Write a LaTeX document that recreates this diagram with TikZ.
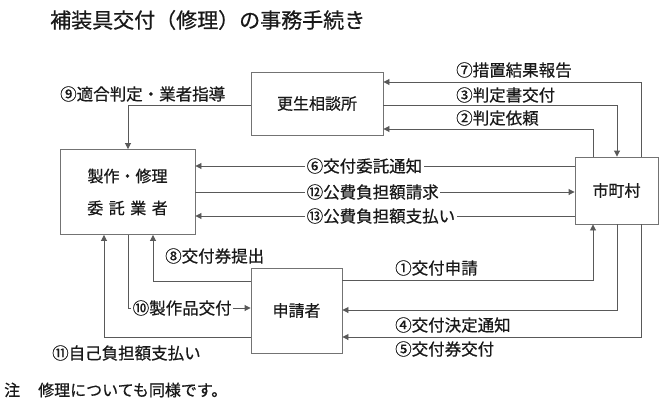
\documentclass[tikz,border=0pt]{standalone}
\usepackage{fontspec}
\newfontfamily\jp[FakeBold=0.6]{Noto Sans CJK JP}
\usetikzlibrary{arrows.meta,calc}
\begin{document}
\begin{tikzpicture}[x=1pt,y=-1pt,
  box/.style={draw=black!55,line width=0.9pt,rectangle,inner sep=0pt,
     font=\jp\fontsize{16}{32}\selectfont,text=black!90},
  lbl/.style={inner sep=0pt,anchor=west,font=\jp\fontsize{16.5}{18}\selectfont,text=black!90},
  wlbl/.style={lbl,fill=white,inner xsep=1.5pt,inner ysep=1pt},
  conn/.style={draw=black!65,line width=0.9pt},
  arr/.style={conn,-{Triangle[length=6pt,width=6pt]}}
]
\useasboundingbox (0,0) rectangle (667,405);
\fill[white] (0,0) rectangle (667,405);

% title
\node[lbl,font=\jp\fontsize{21}{22}\selectfont] (title) at (50,20) {補装具交付（修理）の事務手続き};

% boxes
\node[box,minimum width=132pt,minimum height=63pt] (soudan) at (317,103.5) {更生相談所};
\node[box,minimum width=135pt,minimum height=85pt,align=center] (gyosha) at (127.5,192)
  {製作・修理\\委\hspace{5.5pt}託\hspace{5.5pt}業\hspace{5.5pt}者};
\node[box,minimum width=83pt,minimum height=67pt] (shicho) at (616.5,190.5) {市町村};
\node[box,minimum width=91pt,minimum height=85pt] (shinsei) at (296.5,310.5) {申請者};

% helper coordinates
\coordinate (c7) at (641,82);
\coordinate (c3) at (617,105);
\coordinate (c2) at (593,129);
\coordinate (c9) at (128,105);
\coordinate (y6) at (0,166);
\coordinate (y12) at (0,192);
\coordinate (y13) at (0,216);
\coordinate (c8) at (153,281);
\coordinate (c10) at (128,308);
\coordinate (c11) at (104,337);
\coordinate (c1) at (593,280);
\coordinate (c4) at (617,310);
\coordinate (c5) at (641,337);

% connectors
\draw[arr] (shicho.north -| c7) -- (c7) -- (soudan.east |- c7);
\draw[arr] (soudan.east |- c3) -- (c3) -- (shicho.north -| c3);
\draw[arr] (shicho.north -| c2) -- (c2) -- (soudan.east |- c2);
\draw[arr] (soudan.west |- c9) -- (c9) -- (gyosha.north -| c9);
\draw[arr] (shicho.west |- y6) -- (gyosha.east |- y6);
\draw[arr] (gyosha.east |- y12) -- (shicho.west |- y12);
\draw[arr] (shicho.west |- y13) -- (gyosha.east |- y13);
\draw[arr] (shinsei.west |- c8) -- (c8) -- (gyosha.south -| c8);
\draw[arr] (gyosha.south -| c10) -- (c10) -- (shinsei.west |- c10);
\draw[arr] (shinsei.west |- c11) -- (c11) -- (gyosha.south -| c11);
\draw[arr] (shinsei.east |- c1) -- (c1) -- (shicho.south -| c1);
\draw[arr] (shicho.south -| c4) -- (c4) -- (shinsei.east |- c4);
\draw[arr] (shicho.south -| c5) -- (c5) -- (shinsei.east |- c5);

% labels
\node[lbl] (l7) at (456,70) {⑦措置結果報告};
\node[lbl] (l3) at (456,95) {③判定書交付};
\node[lbl] (l2) at (456,118) {②判定依頼};
\node[lbl] (l9) at (60,94) {⑨適合判定・業者指導};
\node[wlbl] (l6) at (305,166) {⑥交付委託通知};
\node[wlbl] (l12) at (305,192) {⑫公費負担額請求};
\node[wlbl] (l13) at (305,216) {⑬公費負担額支払い};
\node[lbl] (l8) at (165,256) {⑧交付券提出};
\node[wlbl] (l10) at (131,308) {⑩製作品交付};
\node[lbl] (l11) at (52,353) {⑪自己負担額支払い};
\node[lbl] (l1) at (395,268) {①交付申請};
\node[lbl] (l4) at (395,325) {④交付決定通知};
\node[lbl] (l5) at (395,349) {⑤交付券交付};

% note
\node[lbl,font=\jp\fontsize{16}{18}\selectfont] (note) at (4,390) {注\hspace{18pt}修理についても同様です。};
\end{tikzpicture}
\end{document}
